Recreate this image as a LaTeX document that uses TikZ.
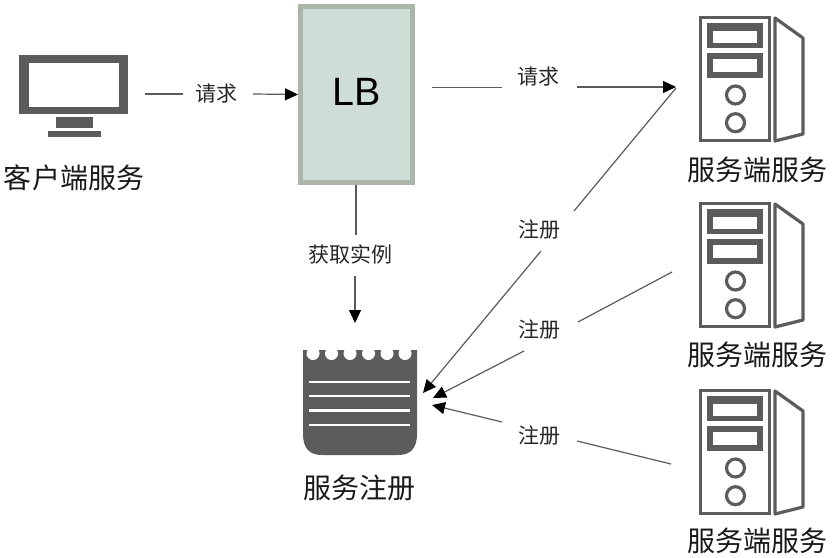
\documentclass[tikz,border=0pt]{standalone}
\usepackage{fontspec}
\setmainfont{Noto Sans CJK SC}
\newfontfamily\latinf{Liberation Sans}
\usetikzlibrary{arrows.meta}
\definecolor{icon}{HTML}{5C5C5C}
\definecolor{lbfill}{HTML}{CFDDD7}
\definecolor{lbedge}{HTML}{ABB5A9}
\definecolor{conn}{HTML}{5A5A5A}
\tikzset{
  x=1pt,y=-1pt,
  conn/.style={draw=conn,line width=1.2pt},
  arr/.style={conn,-{Triangle[length=13pt,width=12pt,color=black]}},
  lab/.style={font=\fontsize{21}{21}\selectfont,text=black!85,inner sep=0pt},
  big/.style={font=\fontsize{28}{28}\selectfont,text=black!90,inner sep=0pt},
  iconline/.style={draw=icon,line width=3.2pt},
  pics/srv/.style={code={
    \draw[iconline,fill=white] (700.5,17.5) rectangle (769.5,140.5);
    \fill[icon] (707,23) rectangle (763,48);
    \fill[white] (713,31) rectangle (757,43);
    \fill[icon] (707,53) rectangle (763,78);
    \fill[white] (713,59) rectangle (757,72);
    \draw[iconline] (735.5,95) circle (9);
    \draw[iconline] (735.5,122.7) circle (9);
    \draw[iconline,line join=round] (775,18) -- (803,38) -- (803,134) -- (775,141) -- cycle;
  }}
}
\begin{document}
\begin{tikzpicture}
\useasboundingbox (0,0) rectangle (834,557);
% client
\fill[icon] (19,55) rectangle (128,114);
\fill[white] (29,63) rectangle (119,107);
\fill[icon] (56,117) rectangle (93,128);
\fill[icon] (48,131) rectangle (101,137);
\node[big] (client) at (74,178) {客户端服务};
% LB
\node[draw=lbedge,fill=lbfill,line width=5pt,minimum width=112pt,minimum height=176pt,inner sep=0pt] (lb) at (356.5,94.5) {};
\node[font=\latinf\fontsize{39.5}{39.5}\selectfont,text=black,inner sep=0pt] (lbt) at (357,92) {LB};
% servers
\pic at (0,0) {srv};
\pic at (0,186) {srv};
\pic at (0,373) {srv};
\node[big] (s1) at (757,170) {服务端服务};
\node[big] (s2) at (757,355) {服务端服务};
\node[big] (s3) at (757,541) {服务端服务};
% registry
\fill[icon] (303,350) -- (417,350) -- (417,434) .. controls (417,449) and (410,455) .. (398,455)
  -- (322,455) .. controls (310,455) and (303,449) .. (303,434) -- cycle;
\foreach \x in {313,331.5,350,368.5,387,405}
  \fill[white] (\x,353.5) circle (6.5);
\fill[white] (300,340) rectangle (420,350);
\foreach \y in {381.7,396,410.5,425}
  \draw[white,line width=2.4pt] (309,\y) -- (410,\y);
\node[big] (regt) at (359,488) {服务注册};
% labels
\node[lab] (l1) at (216,94) {请求};
\node[lab] (l2) at (538,77) {请求};
\node[lab] (l3) at (350,254.5) {获取实例};
\node[lab] (l4) at (539,230) {注册};
\node[lab] (l5) at (539,330) {注册};
\node[lab] (l6) at (539,436) {注册};
% free ends
\coordinate (a1) at (145,94);
\coordinate (a1b) at (183,94);
\coordinate (a1c) at (253,94);
\coordinate (a2) at (432,87.5);
\coordinate (a2b) at (502,87.5);
\coordinate (a3) at (577,87);
\coordinate (a3b) at (676,87);
\coordinate (a4) at (676,88);
\coordinate (a4b) at (574,211);
\coordinate (a5) at (541,251);
\coordinate (a5b) at (423,393);
\coordinate (a6) at (672,272);
\coordinate (a6b) at (578,322);
\coordinate (a7) at (524,351);
\coordinate (a7b) at (433,398);
\coordinate (a8) at (671,464);
\coordinate (a8b) at (577,441);
\coordinate (a9) at (502,422);
\coordinate (a9b) at (432,405);
\coordinate (a10) at (356,185);
\coordinate (a10b) at (356,235);
\coordinate (a11) at (355,276);
\coordinate (a11b) at (355,323);
% connectors
\draw[conn] (a1) -- (a1b);
\draw[arr] (a1c) -- (lb.west);
\draw[conn] (a2) -- (a2b);
\draw[arr] (a3) -- (a3b);
\draw[conn] (a10) -- (a10b);
\draw[arr] (a11) -- (a11b);
\draw[conn] (a4) -- (a4b);
\draw[arr] (a5) -- (a5b);
\draw[conn] (a6) -- (a6b);
\draw[arr] (a7) -- (a7b);
\draw[conn] (a8) -- (a8b);
\draw[arr] (a9) -- (a9b);
\end{tikzpicture}
\end{document}
